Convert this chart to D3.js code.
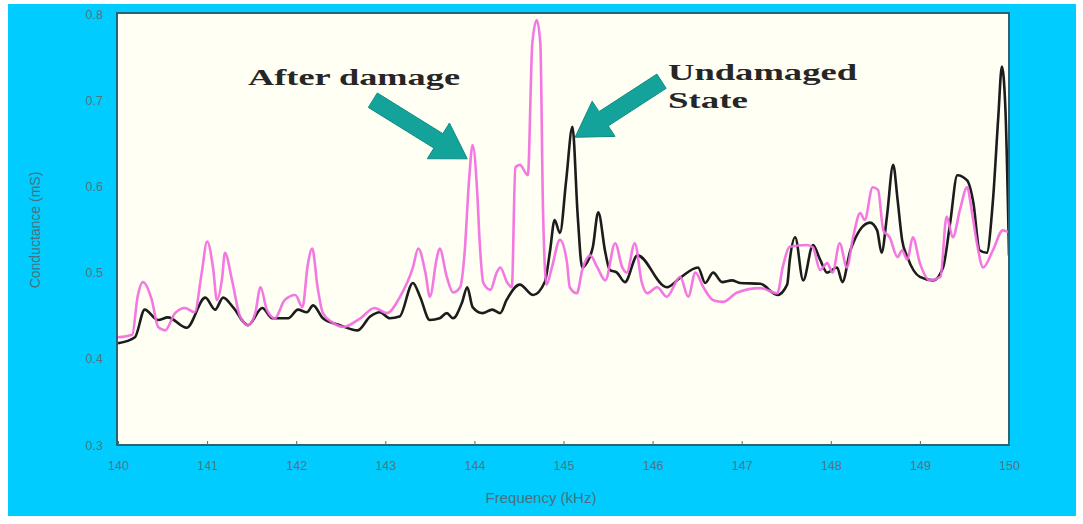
<!DOCTYPE html>
<html>
<head>
<meta charset="utf-8">
<script src="https://cdn.jsdelivr.net/npm/d3@7"></script>
<style>
html,body{margin:0;padding:0;background:#ffffff;}
svg{display:block;}
</style>
</head>
<body>
<svg id="chart" width="1083" height="524"></svg>
<script>
// ---- data ----
const xTicks = [140,141,142,143,144,145,146,147,148,149,150];
const yTicks = [0.3,0.4,0.5,0.6,0.7,0.8];

const undamagedFreq = [140.00,140.19,140.30,140.45,140.56,140.77,140.98,141.09,141.18,141.29,141.46,141.62,141.73,141.91,142.02,142.12,142.19,142.30,142.49,142.69,142.83,142.94,143.05,143.16,143.31,143.39,143.50,143.61,143.69,143.76,143.86,143.92,143.98,144.09,144.20,144.29,144.36,144.51,144.66,144.79,144.85,144.90,144.96,145.03,145.10,145.16,145.21,145.26,145.33,145.39,145.47,145.52,145.60,145.69,145.83,146.16,146.31,146.51,146.59,146.68,146.78,146.89,146.98,147.21,147.40,147.51,147.54,147.60,147.69,147.80,147.88,147.96,148.07,148.13,148.22,148.44,148.52,148.57,148.63,148.70,148.75,148.80,148.86,149.00,149.15,149.26,149.34,149.42,149.53,149.60,149.67,149.75,149.82,149.88,149.92,149.96,150.00];
const undamagedValue = [0.418,0.425,0.457,0.445,0.448,0.436,0.471,0.457,0.471,0.460,0.439,0.459,0.447,0.447,0.457,0.454,0.462,0.447,0.439,0.433,0.449,0.454,0.447,0.449,0.488,0.472,0.445,0.447,0.453,0.447,0.465,0.483,0.460,0.453,0.457,0.453,0.468,0.486,0.474,0.489,0.526,0.561,0.546,0.607,0.669,0.565,0.506,0.511,0.530,0.570,0.523,0.503,0.500,0.489,0.520,0.483,0.494,0.506,0.488,0.500,0.489,0.491,0.488,0.487,0.474,0.486,0.515,0.541,0.491,0.532,0.515,0.500,0.506,0.489,0.526,0.558,0.549,0.523,0.565,0.625,0.584,0.538,0.518,0.495,0.491,0.506,0.558,0.613,0.607,0.581,0.526,0.523,0.584,0.681,0.739,0.689,0.520];

const damagedFreq = [140.00,140.16,140.22,140.28,140.38,140.45,140.53,140.64,140.75,140.86,140.94,141.00,141.07,141.11,141.17,141.20,141.28,141.37,141.46,141.54,141.60,141.67,141.76,141.87,141.99,142.07,142.13,142.18,142.24,142.30,142.41,142.53,142.72,142.88,143.02,143.16,143.31,143.37,143.45,143.50,143.58,143.61,143.69,143.76,143.84,143.89,143.94,143.98,144.03,144.06,144.10,144.18,144.25,144.29,144.37,144.42,144.46,144.51,144.60,144.65,144.70,144.74,144.77,144.81,144.87,144.96,145.04,145.07,145.15,145.21,145.30,145.38,145.47,145.58,145.66,145.71,145.80,145.88,145.94,146.05,146.16,146.31,146.40,146.48,146.57,146.68,146.79,146.95,147.21,147.40,147.46,147.54,147.73,147.80,147.88,147.96,148.02,148.10,148.18,148.25,148.33,148.38,148.47,148.53,148.59,148.66,148.75,148.80,148.86,148.92,149.00,149.11,149.23,149.30,149.37,149.45,149.53,149.58,149.64,149.71,149.82,149.93,150.00];
const damagedValue = [0.425,0.428,0.472,0.489,0.468,0.437,0.433,0.453,0.459,0.454,0.500,0.536,0.503,0.468,0.495,0.523,0.491,0.449,0.439,0.453,0.483,0.457,0.447,0.468,0.474,0.460,0.509,0.528,0.483,0.453,0.442,0.437,0.447,0.459,0.453,0.471,0.506,0.528,0.500,0.472,0.518,0.528,0.495,0.477,0.483,0.523,0.607,0.648,0.596,0.534,0.488,0.480,0.500,0.506,0.488,0.483,0.622,0.625,0.613,0.766,0.793,0.766,0.573,0.486,0.506,0.538,0.511,0.483,0.476,0.503,0.520,0.506,0.491,0.534,0.506,0.500,0.534,0.488,0.476,0.483,0.472,0.495,0.472,0.500,0.483,0.468,0.466,0.477,0.482,0.476,0.506,0.530,0.532,0.529,0.503,0.511,0.500,0.534,0.506,0.541,0.569,0.561,0.599,0.596,0.549,0.541,0.518,0.526,0.515,0.541,0.511,0.491,0.495,0.565,0.541,0.573,0.599,0.573,0.534,0.506,0.526,0.549,0.547];

const xTitle = "Frequency (kHz)";
const yTitle = "Conductance (mS)";

// ---- drawing ----
const svg = d3.select("#chart");
const plot = {left:117, right:1009, top:13, bottom:445};

// cyan panel
svg.append("rect").attr("x",8).attr("y",4).attr("width",1068).attr("height",512).attr("fill","#00ccff");

const x = d3.scaleLinear().domain([140,150]).range([plot.left+1, plot.right]);
const y = d3.scaleLinear().domain([0.3,0.8]).range([plot.bottom, plot.top+1]);

// plot background
svg.append("rect").attr("x",plot.left).attr("y",plot.top)
  .attr("width",plot.right-plot.left).attr("height",plot.bottom-plot.top)
  .attr("fill","#fffff4");

svg.append("clipPath").attr("id","clip").append("rect")
  .attr("x",plot.left).attr("y",plot.top).attr("width",plot.right-plot.left).attr("height",plot.bottom-plot.top);

const line = d3.line().x(d=>x(d[0])).y(d=>y(d[1])).curve(d3.curveMonotoneX);
const undamaged = undamagedFreq.map((f,i)=>[f,undamagedValue[i]]);
const damaged = damagedFreq.map((f,i)=>[f,damagedValue[i]]);

const g = svg.append("g").attr("clip-path","url(#clip)");
g.append("path").datum(undamaged).attr("d",line).attr("fill","none")
  .attr("stroke","#1c1c1c").attr("stroke-width",2.6).attr("stroke-linejoin","round");
g.append("path").datum(damaged).attr("d",line).attr("fill","none")
  .attr("stroke","#f36ddf").attr("stroke-width",2.6).attr("stroke-linejoin","round").attr("opacity",0.92);

// frame
svg.append("rect").attr("x",plot.left).attr("y",plot.top)
  .attr("width",plot.right-plot.left).attr("height",plot.bottom-plot.top)
  .attr("fill","none").attr("stroke","#2a6373").attr("stroke-width",2);

// axes
const xAxis = d3.axisBottom(x).tickValues(xTicks).tickFormat(d3.format("d")).tickSize(4).tickPadding(12);
const xg = svg.append("g").attr("transform",`translate(0,${plot.bottom})`).call(xAxis);
xg.select(".domain").remove();
xg.selectAll(".tick line").attr("stroke","#3d7080").attr("y2",-4);
xg.selectAll("text").attr("fill","#56727e").style("font-family","'Liberation Sans', Arial, sans-serif").style("font-size","12.5px");

const yAxis = d3.axisLeft(y).tickValues(yTicks).tickFormat(d3.format(".1f")).tickSize(0).tickPadding(14);
const yg = svg.append("g").attr("transform",`translate(${plot.left},0)`).call(yAxis);
yg.select(".domain").remove();
yg.selectAll("text").attr("fill","#56727e").style("font-family","'Liberation Sans', Arial, sans-serif").style("font-size","12.5px");

svg.append("text").attr("x",(plot.left+plot.right)/2 - 22).attr("y",503)
  .attr("text-anchor","middle").attr("fill","#4d6f7d")
  .style("font-family","'Liberation Sans', Arial, sans-serif").style("font-size","15px").text(xTitle);
svg.append("text").attr("transform","translate(40,230) rotate(-90)")
  .attr("text-anchor","middle").attr("fill","#4d6f7d")
  .style("font-family","'Liberation Sans', Arial, sans-serif").style("font-size","14px").text(yTitle);

// annotations
function blockArrow(tail, tip, shaftW, headW, headL){
  const dx = tip[0]-tail[0], dy = tip[1]-tail[1];
  const len = Math.hypot(dx,dy), ux = dx/len, uy = dy/len, nx = -uy, ny = ux;
  const bx = tip[0]-ux*headL, by = tip[1]-uy*headL;
  const pts = [
    [tail[0]+nx*shaftW/2, tail[1]+ny*shaftW/2],
    [bx+nx*shaftW/2, by+ny*shaftW/2],
    [bx+nx*headW/2, by+ny*headW/2],
    tip,
    [bx-nx*headW/2, by-ny*headW/2],
    [bx-nx*shaftW/2, by-ny*shaftW/2],
    [tail[0]-nx*shaftW/2, tail[1]-ny*shaftW/2]
  ];
  svg.append("polygon").attr("points",pts.map(p=>p.join(",")).join(" "))
    .attr("fill","#14a39a").attr("stroke","#0f8c84").attr("stroke-width",1);
}
blockArrow([x(142.86), y(0.700)], [x(143.92), y(0.632)], 17, 42, 34);
blockArrow([x(146.10), y(0.722)], [x(145.13), y(0.657)], 17, 42, 34);

const annFont = "'Liberation Serif', 'Times New Roman', serif";
function ann(tx, ty, len, txt){
  svg.append("text").attr("x",tx).attr("y",ty).attr("textLength",len).attr("lengthAdjust","spacingAndGlyphs")
    .attr("fill","#262626").style("font-family",annFont).style("font-weight","bold").style("font-size","23px").text(txt);
}
ann(248, 85, 212, "After damage");
ann(668, 80, 189, "Undamaged");
ann(668, 108, 80, "State");
</script>
</body>
</html>
